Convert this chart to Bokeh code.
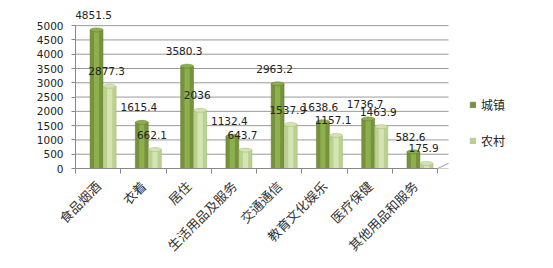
from bokeh.plotting import figure
from bokeh.models import Range1d, FixedTicker, Legend, LegendItem, ColumnDataSource
from bokeh.embed import file_html
from bokeh.resources import INLINE
from bokeh.core.properties import value
import math

categories = ["食品烟酒", "衣着", "居住", "生活用品及服务", "交通通信", "教育文化娱乐", "医疗保健", "其他用品和服务"]
urban = [4851.5, 1615.4, 3580.3, 1132.4, 2963.2, 1638.6, 1736.7, 582.6]
rural = [2877.3, 662.1, 2036, 643.7, 1537.9, 1157.1, 1463.9, 175.9]
series_names = ["城镇", "农村"]
y_ticks = [0, 500, 1000, 1500, 2000, 2500, 3000, 3500, 4000, 4500, 5000]

n = len(categories)
centers = [i + 0.5 for i in range(n)]
bw = 0.285
dark_x = [c - 0.035 for c in centers]
light_x = [c + 0.255 for c in centers]

src_u = ColumnDataSource(dict(x=dark_x, top=urban, lab=[f"{v:g}" for v in urban]))
src_r = ColumnDataSource(dict(x=light_x, top=rural, lab=[f"{v:g}" for v in rural]))

px_per_unit = 45.27
frame_w = 540 - 75
p = figure(width=553, height=268, output_backend="svg", toolbar_location=None,
           x_range=Range1d(0, frame_w / px_per_unit), y_range=Range1d(0, 5600),
           min_border_left=75, min_border_right=13, min_border_top=8, min_border_bottom=100)
p.outline_line_color = None
p.background_fill_color = "white"
p.border_fill_color = "white"

# grid (drawn as segments so it stops before the legend area)
p.xgrid.grid_line_color = None
p.ygrid.grid_line_color = None
grid_end = 8.24
p.segment(x0=[0] * len(y_ticks), x1=[grid_end] * len(y_ticks), y0=y_ticks, y1=y_ticks,
          line_color="#9a9a9a", line_width=1)
p.segment(x0=[n], x1=[grid_end], y0=[0], y1=[180], line_color="#9a9a9a", line_width=1)

# y axis
ya = p.yaxis[0]
ya.ticker = FixedTicker(ticks=y_ticks)
ya.bounds = (0, 5000)
ya.axis_line_color = "#888888"
ya.major_tick_line_color = "#888888"
ya.major_tick_out = 4
ya.major_tick_in = 0
ya.minor_tick_line_color = None
ya.major_label_standoff = 8
ya.major_label_text_font = "DejaVu Sans"
ya.major_label_text_font_size = "10.5px"
ya.major_label_text_color = "#222222"

# x axis
xa = p.xaxis[0]
xa.ticker = FixedTicker(ticks=centers, minor_ticks=list(range(n + 1)))
xa.bounds = (0, n)
xa.major_label_overrides = {c: lab for c, lab in zip(centers, categories)}
xa.major_tick_line_color = None
xa.minor_tick_line_color = "#888888"
xa.minor_tick_out = 5
xa.minor_tick_in = 0
xa.axis_line_color = "#888888"
xa.major_label_orientation = math.pi / 4
xa.major_label_standoff = 9
xa.major_label_text_font = "Noto Sans CJK SC"
xa.major_label_text_font_size = "13px"
xa.major_label_text_color = "#333333"

# bars (cylinder-ish)
r_u = p.vbar(x="x", top="top", width=bw, bottom=0, source=src_u,
             fill_color="#76923C", line_color="#5f7a2b", line_width=0.5)
p.vbar(x="x", top="top", width=bw * 0.4, bottom=0, source=src_u,
       fill_color="#94B653", line_color=None, fill_alpha=0.8)
p.ellipse(x="x", y="top", width=bw, height=4, height_units="screen", source=src_u,
          fill_color="#8CAE4C", line_color="#5f7a2b", line_width=0.5)

r_r = p.vbar(x="x", top="top", width=bw, bottom=0, source=src_r,
             fill_color="#BBD28E", line_color="#9fb872", line_width=0.5)
p.vbar(x="x", top="top", width=bw * 0.4, bottom=0, source=src_r,
       fill_color="#D8E7BC", line_color=None, fill_alpha=0.85)
p.ellipse(x="x", y="top", width=bw, height=4, height_units="screen", source=src_r,
          fill_color="#D3E3B3", line_color="#9fb872", line_width=0.5)

# value labels
for s in (src_u, src_r):
    p.text(x="x", y="top", text="lab", source=s, x_offset=-3, y_offset=-15,
           text_align="center", text_baseline="middle",
           text_font=value("DejaVu Sans"), text_font_size="10.5px", text_color="#222222")

legend = Legend(items=[LegendItem(label=series_names[0], renderers=[r_u]),
                       LegendItem(label=series_names[1], renderers=[r_r])],
                location=(394, 19), orientation="vertical",
                glyph_width=7, glyph_height=7, label_standoff=5, spacing=19,
                padding=0, margin=0, border_line_color=None, background_fill_alpha=0,
                label_text_font="Noto Sans CJK SC", label_text_font_size="12px",
                label_text_color="#222222", label_height=12)
p.add_layout(legend, "center")

open("out.html", "w").write(file_html(p, INLINE))
